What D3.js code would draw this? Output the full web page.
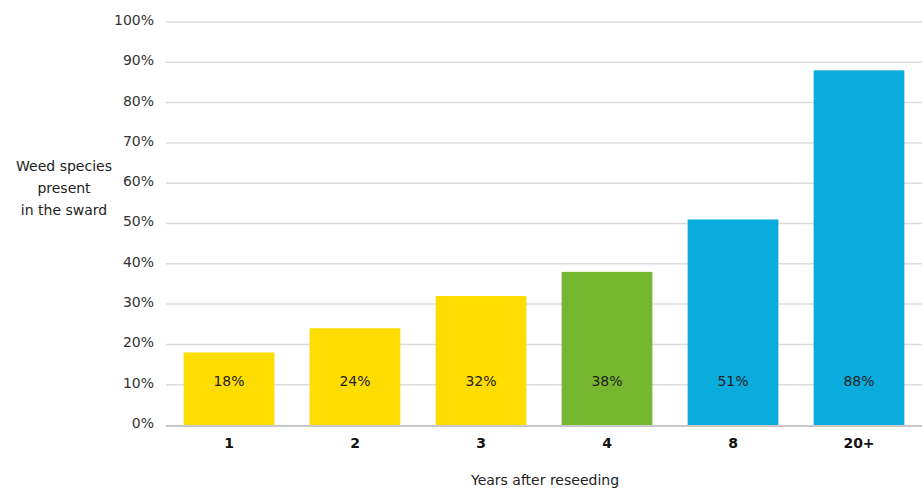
<!DOCTYPE html>
<html>
<head>
<meta charset="utf-8">
<script src="https://cdn.jsdelivr.net/npm/d3@7"></script>
<style>
  body { margin: 0; background: #fff; }
  svg { display: block; font-family: "DejaVu Sans", sans-serif; }
</style>
</head>
<body>
<div id="chart"></div>
<script>
// data
var years = ["1", "2", "3", "4", "8", "20+"];
var weedPct = [18, 24, 32, 38, 51, 88];
var barColors = ["#FFDD00", "#FFDD00", "#FFDD00", "#76B72F", "#0AABDD", "#0AABDD"];
var yTicks = [0, 10, 20, 30, 40, 50, 60, 70, 80, 90, 100];
var yTitle = ["Weed species", "present", "in the sward"];
var xTitle = "Years after reseeding";

var width = 922, height = 495;
var margin = {top: 22, right: 0, bottom: 70, left: 166};

var svg = d3.select("#chart").append("svg")
    .attr("width", width)
    .attr("height", height);

var x = d3.scaleBand()
    .domain(years)
    .range([margin.left, width - margin.right])
    .paddingInner(0.28)
    .paddingOuter(0.14);

var y = d3.scaleLinear()
    .domain([0, 100])
    .range([425, margin.top]);

// gridlines
svg.append("g")
  .selectAll("line")
  .data(yTicks.filter(d => d > 0))
  .join("line")
    .attr("x1", margin.left)
    .attr("x2", width)
    .attr("y1", d => y(d))
    .attr("y2", d => y(d))
    .attr("stroke", "#dcdcdc")
    .attr("stroke-width", 1.5);

// y tick labels
svg.append("g")
  .selectAll("text")
  .data(yTicks)
  .join("text")
    .attr("x", margin.left - 12)
    .attr("y", d => y(d) - 2)
    .attr("dy", "0.35em")
    .attr("text-anchor", "end")
    .attr("fill", "#333")
    .style("font-size", "14px")
    .text(d => d + "%");

// bars
svg.append("g")
  .selectAll("rect")
  .data(years)
  .join("rect")
    .attr("x", d => x(d))
    .attr("width", x.bandwidth())
    .attr("y", (d, i) => y(weedPct[i]))
    .attr("height", (d, i) => y(0) - y(weedPct[i]))
    .attr("fill", (d, i) => barColors[i]);

// value labels
svg.append("g")
  .selectAll("text")
  .data(years)
  .join("text")
    .attr("x", d => x(d) + x.bandwidth() / 2)
    .attr("y", y(11))
    .attr("dy", "0.35em")
    .attr("text-anchor", "middle")
    .attr("fill", "#222")
    .style("font-size", "14px")
    .text((d, i) => weedPct[i] + "%");

// baseline
svg.append("line")
    .attr("x1", margin.left)
    .attr("x2", width)
    .attr("y1", y(0) + 1)
    .attr("y2", y(0) + 1)
    .attr("stroke", "#c8c8c8")
    .attr("stroke-width", 2);

// x tick labels
svg.append("g")
  .selectAll("text")
  .data(years)
  .join("text")
    .attr("x", d => x(d) + x.bandwidth() / 2)
    .attr("y", y(0) + 23)
    .attr("text-anchor", "middle")
    .attr("fill", "#111")
    .style("font-size", "14px")
    .style("font-weight", "bold")
    .text(d => d);

// axis titles
svg.append("text")
    .attr("x", 545)
    .attr("y", 485)
    .attr("text-anchor", "middle")
    .attr("fill", "#222")
    .style("font-size", "14px")
    .text(xTitle);

svg.append("text")
    .attr("text-anchor", "middle")
    .attr("fill", "#222")
    .style("font-size", "14px")
  .selectAll("tspan")
  .data(yTitle)
  .join("tspan")
    .attr("x", 64)
    .attr("y", (d, i) => 171 + i * 22)
    .text(d => d);
</script>
</body>
</html>
